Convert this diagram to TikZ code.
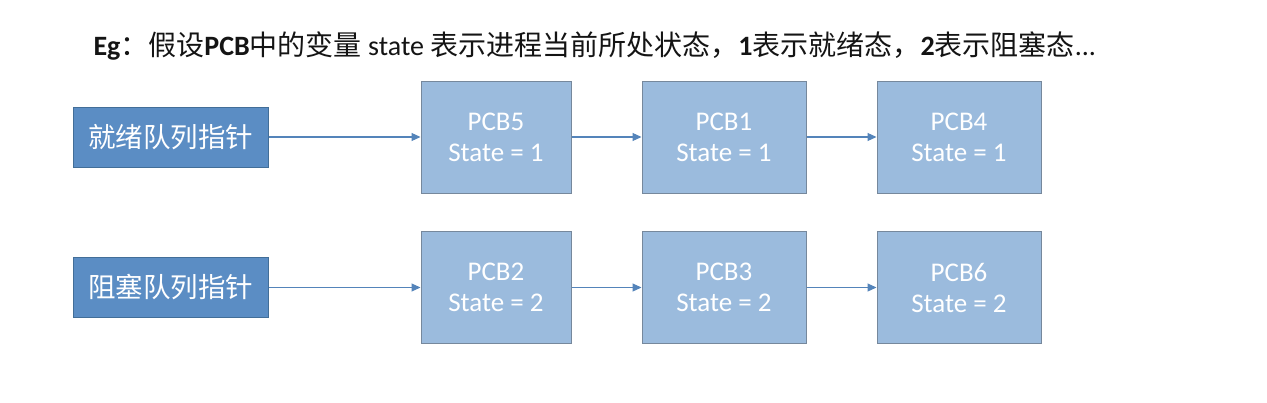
\documentclass[tikz,border=0pt]{standalone}
\usepackage{fontspec}
\setmainfont{Carlito}
\newfontfamily\cjk{Noto Sans CJK SC}
\usetikzlibrary{arrows.meta}
\definecolor{ptrfill}{RGB}{91,141,196}
\definecolor{ptredge}{RGB}{66,110,152}
\definecolor{pcbfill}{RGB}{155,187,221}
\definecolor{pcbedge}{RGB}{118,136,156}
\definecolor{linkblue}{RGB}{84,132,186}
\begin{document}
\begin{tikzpicture}[x=1pt,y=-1pt,
  ptrbox/.style={draw=ptredge,fill=ptrfill,line width=1pt,minimum width=195pt,minimum height=60pt,
    inner sep=0pt,text=white,font=\cjk\fontsize{27.5}{32}\selectfont},
  pcbbox/.style={draw=pcbedge,fill=pcbfill,line width=1pt,minimum height=112pt,inner sep=0pt,
    align=center,text=white,font=\fontsize{27}{31}\selectfont},
  link/.style={draw=linkblue,line width=1.1pt,-{Triangle[length=9pt,width=8pt]}}]
\useasboundingbox[fill=white] (0,0) rectangle (1267,402);
\node[anchor=base west,text=black!92,font=\fontsize{28}{32}\selectfont] (title) at (90,55)
  {\textbf{Eg}{\cjk ：假设}\textbf{PCB}{\cjk 中的变量} state {\cjk 表示进程当前所处状态，}\textbf{1}{\cjk 表示就绪态，}\textbf{2}{\cjk 表示阻塞态}...};
\node[ptrbox] (ready) at (170.5,137) {就绪队列指针};
\node[pcbbox,minimum width=150pt] (pcb5) at (496,137) {PCB5\\State = 1};
\node[pcbbox,minimum width=164pt] (pcb1) at (724,137) {PCB1\\State = 1};
\node[pcbbox,minimum width=164pt] (pcb4) at (959,137) {PCB4\\State = 1};
\node[ptrbox] (blocked) at (170.5,287.5) {阻塞队列指针};
\node[pcbbox,minimum width=150pt] (pcb2) at (496,287.5) {PCB2\\State = 2};
\node[pcbbox,minimum width=164pt] (pcb3) at (724,287.5) {PCB3\\State = 2};
\node[pcbbox,minimum width=164pt] (pcb6) at (959,287.5) {PCB6\\State = 2};
\draw[link] (ready) -- (pcb5);
\draw[link] (pcb5) -- (pcb1);
\draw[link] (pcb1) -- (pcb4);
\draw[link] (blocked) -- (pcb2);
\draw[link] (pcb2) -- (pcb3);
\draw[link] (pcb3) -- (pcb6);
\end{tikzpicture}
\end{document}
